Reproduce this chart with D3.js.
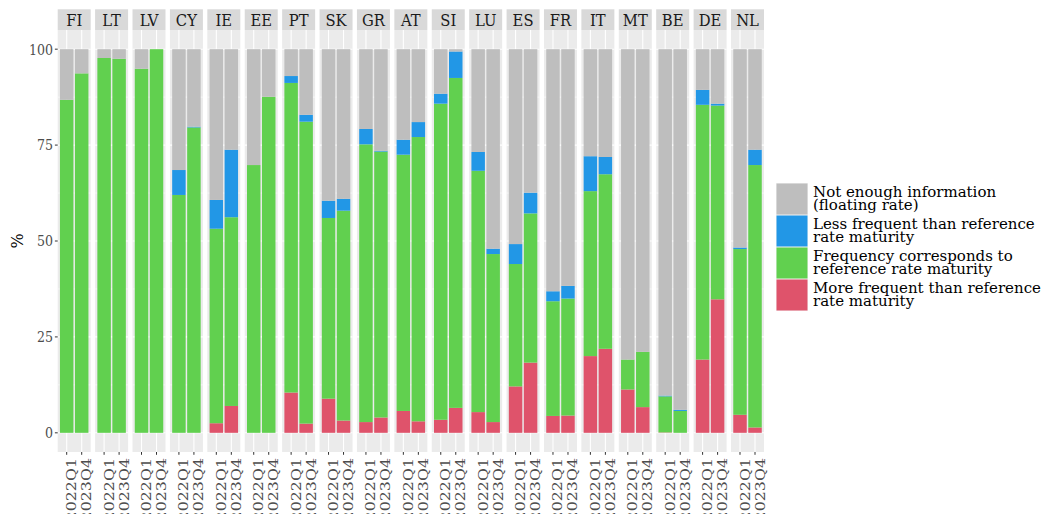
<!DOCTYPE html>
<html>
<head>
<meta charset="utf-8">
<script src="https://cdn.jsdelivr.net/npm/d3@7"></script>
<style>
  body { margin: 0; background: #fff; }
  text { font-family: "DejaVu Serif", serif; }
</style>
</head>
<body>
<div id="chart"></div>
<script>
// Countries (facets) and quarters
const countries = ["FI","LT","LV","CY","IE","EE","PT","SK","GR","AT","SI","LU","ES","FR","IT","MT","BE","DE","NL"];
const quarters = ["2022Q1","2023Q4"];

// Shares in %, one value per country and quarter: [2022Q1, 2023Q4]
const moreFrequent = [
  [0,0],[0,0],[0,0],[0,0],[2.5,7.0],[0,0],[10.5,2.4],[8.9,3.2],[2.8,4.0],[5.7,3.0],
  [3.4,6.5],[5.4,2.8],[12.1,18.3],[4.4,4.5],[20.0,21.9],[11.3,6.7],[0.1,0],[19.1,34.8],[4.7,1.4]
];
const corresponds = [
  [86.8,93.7],[97.7,97.5],[94.9,100],[62.0,79.6],[50.7,49.2],[69.8,87.6],[80.7,78.7],[47.1,54.7],[72.4,69.3],[66.8,74.1],
  [82.4,86.0],[62.9,43.8],[31.9,38.9],[29.9,30.5],[43.0,45.5],[7.8,14.4],[9.4,5.7],[66.4,50.5],[43.2,68.4]
];
const lessFrequent = [
  [0,0],[0,0],[0,0],[6.5,0.2],[7.5,17.6],[0,0],[1.8,1.8],[4.5,3.1],[4.0,0.2],[3.9,3.9],
  [2.6,6.9],[4.9,1.4],[5.2,5.4],[2.6,3.3],[9.1,4.5],[0,0],[0.2,0.3],[3.9,0.5],[0.4,4.0]
];
const notEnough = [
  [13.2,6.3],[2.3,2.5],[5.1,0],[31.5,20.2],[39.3,26.2],[30.2,12.4],[7.0,17.1],[39.5,39.0],[20.8,26.5],[23.6,19.0],
  [11.6,0.6],[26.8,52.0],[50.8,37.4],[63.1,61.7],[27.9,28.1],[80.9,78.9],[90.3,94.0],[10.6,14.2],[51.7,26.2]
];

const seriesKeys = ["more","corr","less","notenough"];
const seriesLabels = {
  notenough: ["Not enough information", "(floating rate)"],
  less: ["Less frequent than reference", "rate maturity"],
  corr: ["Frequency corresponds to", "reference rate maturity"],
  more: ["More frequent than reference", "rate maturity"]
};
const yTicks = [0, 25, 50, 75, 100];

// build rows
const rows = [];
countries.forEach((c, i) => {
  quarters.forEach((q, j) => {
    rows.push({
      country: c, quarter: q,
      more: moreFrequent[i][j], corr: corresponds[i][j],
      less: lessFrequent[i][j], notenough: notEnough[i][j]
    });
  });
});

const width = 1043, height = 514;
const panelTop = 30, panelBottom = 452;

const color = d3.scaleOrdinal()
  .domain(seriesKeys)
  .range(["#DF536B", "#61D04F", "#2297E6", "#BEBEBE"]);

const fx = d3.scaleBand()
  .domain(countries)
  .range([57.7, 764])
  .paddingInner(0.118)
  .paddingOuter(0);

const x = d3.scaleBand()
  .domain(quarters)
  .range([0, fx.bandwidth()])
  .paddingInner(0.1)
  .paddingOuter(0.15);

const y = d3.scaleLinear()
  .domain([-5, 105])
  .range([panelBottom, panelTop]);

const stack = d3.stack().keys(seriesKeys);

const svg = d3.select('#chart')
  .append('svg')
  .attr('width', width)
  .attr('height', height);

// panels
const panel = svg.selectAll('g.panel')
  .data(countries)
  .join('g')
  .attr('class', 'panel')
  .attr('transform', d => `translate(${fx(d)},0)`);

panel.append('rect')
  .attr('x', 0).attr('y', panelTop)
  .attr('width', fx.bandwidth())
  .attr('height', panelBottom - panelTop)
  .attr('fill', '#EBEBEB');

// minor grid
panel.selectAll('line.minor')
  .data([12.5, 37.5, 62.5, 87.5])
  .join('line')
  .attr('x1', 0).attr('x2', fx.bandwidth())
  .attr('y1', d => y(d)).attr('y2', d => y(d))
  .attr('stroke', '#fff').attr('stroke-width', 0.55);

// major grid
panel.selectAll('line.major')
  .data(yTicks)
  .join('line')
  .attr('x1', 0).attr('x2', fx.bandwidth())
  .attr('y1', d => y(d)).attr('y2', d => y(d))
  .attr('stroke', '#fff').attr('stroke-width', 1.1);

panel.selectAll('line.vgrid')
  .data(quarters)
  .join('line')
  .attr('x1', d => x(d) + x.bandwidth() / 2)
  .attr('x2', d => x(d) + x.bandwidth() / 2)
  .attr('y1', panelTop).attr('y2', panelBottom)
  .attr('stroke', '#fff').attr('stroke-width', 1.1);

// stacked bars
panel.each(function(c) {
  const data = rows.filter(r => r.country === c);
  const series = stack(data);
  d3.select(this).selectAll('g.series')
    .data(series)
    .join('g')
    .attr('fill', s => color(s.key))
    .selectAll('rect')
    .data(s => s)
    .join('rect')
    .attr('x', d => x(d.data.quarter))
    .attr('width', x.bandwidth())
    .attr('y', d => y(d[1]))
    .attr('height', d => Math.max(0, y(d[0]) - y(d[1])));
});

// strips
panel.append('rect')
  .attr('x', 0).attr('y', 9.3)
  .attr('width', fx.bandwidth())
  .attr('height', panelTop - 9.3)
  .attr('fill', '#D9D9D9');

panel.append('text')
  .attr('transform', `translate(${fx.bandwidth() / 2},26) scale(1,1.18)`)
  .attr('text-anchor', 'middle')
  .attr('font-size', 14.8)
  .attr('fill', '#1A1A1A')
  .text(d => d);

// x ticks and labels
panel.selectAll('line.xtick')
  .data(quarters)
  .join('line')
  .attr('x1', d => x(d) + x.bandwidth() / 2)
  .attr('x2', d => x(d) + x.bandwidth() / 2)
  .attr('y1', panelBottom).attr('y2', panelBottom + 2.8)
  .attr('stroke', '#333').attr('stroke-width', 1);

panel.selectAll('text.xlab')
  .data(quarters)
  .join('text')
  .attr('class', 'xlab')
  .attr('transform', d => `translate(${x(d) + x.bandwidth() / 2 + 9.5},458) rotate(-90) scale(1.22,1)`)
  .attr('text-anchor', 'end')
  .attr('font-size', 13)
  .attr('fill', '#4D4D4D')
  .text(d => d);

// y axis
const yAxis = svg.append('g');
yAxis.selectAll('line')
  .data(yTicks)
  .join('line')
  .attr('x1', 54.9).attr('x2', 57.7)
  .attr('y1', d => y(d)).attr('y2', d => y(d))
  .attr('stroke', '#333').attr('stroke-width', 1);
yAxis.selectAll('text')
  .data(yTicks)
  .join('text')
  .attr('transform', d => `translate(53,${y(d) + 5.4}) scale(1,1.2)`)
  .attr('text-anchor', 'end')
  .attr('font-size', 12.6)
  .attr('fill', '#4D4D4D')
  .text(d => d);

svg.append('text')
  .attr('transform', `translate(23,${(panelTop + panelBottom) / 2}) rotate(-90)`)
  .attr('text-anchor', 'middle')
  .attr('font-size', 16)
  .attr('fill', '#000')
  .text('%');

// legend
const legendOrder = ["notenough", "less", "corr", "more"];
const legend = svg.selectAll('g.legendEntry')
  .data(legendOrder)
  .join('g')
  .attr('class', 'legendEntry')
  .attr('transform', (d, i) => `translate(776,${183 + i * 32})`);

legend.append('rect')
  .attr('width', 32).attr('height', 32)
  .attr('fill', '#F2F2F2');
legend.append('rect')
  .attr('x', 0.5).attr('y', 0.5)
  .attr('width', 31).attr('height', 31)
  .attr('fill', d => color(d));

legend.selectAll('text')
  .data(d => seriesLabels[d])
  .join('text')
  .attr('x', 37)
  .attr('y', (d, i) => 13.5 + i * 13.3)
  .attr('font-size', 15)
  .attr('fill', '#000')
  .text(d => d);
</script>
</body>
</html>
